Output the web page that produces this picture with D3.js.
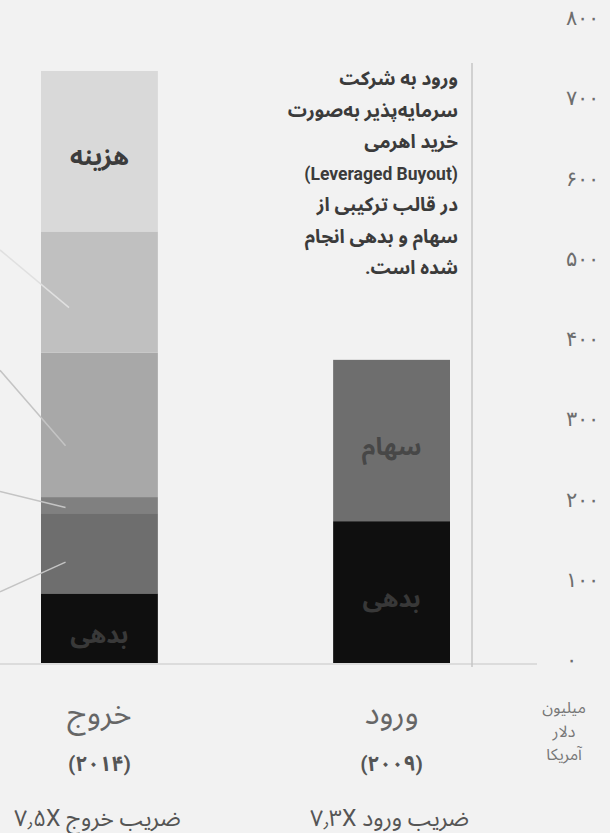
<!DOCTYPE html>
<html lang="fa">
<head>
<meta charset="utf-8">
<script src="https://cdn.jsdelivr.net/npm/d3@7"></script>
<style>
  html, body { margin: 0; padding: 0; background: #f2f2f2; }
  svg { display: block; font-family: Roboto, "Noto Sans Arabic", "DejaVu Sans", sans-serif; }
</style>
</head>
<body>
<svg id="chart" width="610" height="833"></svg>
<script>
// Stages of the deal, exit (2014) on the left and entry (2009) on the right
const stages = ["خروج", "ورود"];
const stageYears = ["(۲۰۱۴)", "(۲۰۰۹)"];
const stageMultiples = ["ضریب خروج ۷٫۵X", "ضریب ورود ۷٫۳X"];

// Stack layers, bottom to top (million US dollars)
const layerKeys = ["debt", "equity", "layer3", "layer4", "layer5", "cost"];
const layerNames = ["بدهی", "سهام", "", "", "", "هزینه"];
const layerColors = ["#0f0f0f", "#6e6e6e", "#808080", "#a8a8a8", "#c0c0c0", "#d9d9d9"];
const exitValues = [88, 100, 20, 180, 151, 200];
const entryValues = [178, 201, 0, 0, 0, 0];

// In-bar labels: which stage, which layer, text colour
const barLabels = [
  { stage: "خروج", layer: "cost", color: "#3c3c3c" },
  { stage: "خروج", layer: "debt", color: "#393939" },
  { stage: "ورود", layer: "equity", color: "#474747" },
  { stage: "ورود", layer: "debt", color: "#383838" }
];

// Leader lines into the exit bar (values where they leave the left edge and where they end)
const leaderFrom = [516, 366, 215, 90];
const leaderTo = [444, 272, 195, 127];
const leaderColors = ["#e0e0e0", "#c4c4c4", "#c4c4c4", "#c4c4c4"];

const yTicks = [0, 100, 200, 300, 400, 500, 600, 700, 800];
const unitLines = ["میلیون", "دلار", "آمریکا"];

const noteLines = [
  "ورود به شرکت",
  "سرمایه‌پذیر به‌صورت",
  "خرید اهرمی",
  "(Leveraged Buyout)",
  "در قالب ترکیبی از",
  "سهام و بدهی انجام",
  "شده است."
];

const faDigits = s => String(s).replace(/\d/g, d => "۰۱۲۳۴۵۶۷۸۹"[+d]);
const isLatin = s => /[A-Za-z]/.test(s) && !/[\u0600-\u06FF]/.test(s);

const svg = d3.select("#chart");

const y = d3.scaleLinear().domain([0, 800]).range([664, 22]);
const x = d3.scaleBand().domain(stages).range([41, 450]).paddingInner(0.6);

const rows = stages.map((s, i) => {
  const vals = i === 0 ? exitValues : entryValues;
  const r = { stage: s };
  layerKeys.forEach((k, j) => r[k] = vals[j]);
  return r;
});
const stacked = d3.stack().keys(layerKeys)(rows);

// Bars
svg.append("g").selectAll("g")
  .data(stacked)
  .join("g")
  .attr("fill", (d, i) => layerColors[i])
  .selectAll("rect")
  .data(d => d.filter(p => p[1] > p[0]))
  .join("rect")
  .attr("x", d => x(d.data.stage))
  .attr("width", x.bandwidth())
  .attr("y", d => y(d[1]))
  .attr("height", d => y(d[0]) - y(d[1]));

// Baseline
svg.append("line")
  .attr("x1", 0).attr("x2", 537)
  .attr("y1", y(0)).attr("y2", y(0))
  .attr("stroke", "#dcdcdc").attr("stroke-width", 2);

// Divider next to the note
svg.append("line")
  .attr("x1", 472).attr("x2", 472)
  .attr("y1", 63).attr("y2", y(0) + 3)
  .attr("stroke", "#c6c6c6").attr("stroke-width", 1.5);

// Leader lines
svg.append("g").selectAll("line")
  .data(leaderFrom.map((v, i) => ({ from: v, to: leaderTo[i], color: leaderColors[i] })))
  .join("line")
  .attr("x1", 0)
  .attr("y1", d => y(d.from))
  .attr("x2", (d, i) => x("خروج") + x.bandwidth() * (i === 0 ? 0.24 : 0.21))
  .attr("y2", d => y(d.to))
  .attr("stroke", d => d.color)
  .attr("stroke-width", 1.5);

// Labels inside bars
svg.append("g").selectAll("text")
  .data(barLabels)
  .join("text")
  .attr("direction", "rtl")
  .attr("text-anchor", "middle")
  .attr("x", d => x(d.stage) + x.bandwidth() / 2)
  .attr("y", d => {
    const layer = stacked[layerKeys.indexOf(d.layer)];
    const p = layer[stages.indexOf(d.stage)];
    return y((p[0] + p[1]) / 2) + 14;
  })
  .attr("font-size", 25)
  .attr("font-weight", "bold")
  .attr("fill", d => d.color)
  .text(d => layerNames[layerKeys.indexOf(d.layer)]);

// Y axis on the right, Persian digits
const axis = svg.append("g")
  .attr("transform", "translate(566,-4)")
  .call(d3.axisRight(y).tickValues(yTicks).tickSize(0).tickPadding(0).tickFormat(faDigits));
axis.select(".domain").remove();
axis.selectAll("text")
  .attr("font-family", null)
  .attr("font-size", 21)
  .attr("fill", "#6e6e6e")
  .attr("text-anchor", "start");

// Unit caption under the axis
svg.append("g").selectAll("text")
  .data(unitLines)
  .join("text")
  .attr("direction", "rtl")
  .attr("text-anchor", "middle")
  .attr("x", 564)
  .attr("y", (d, i) => 713 + i * 23.5)
  .attr("font-size", 16)
  .attr("fill", "#777")
  .text(d => d);

// Category labels
const cat = svg.append("g");
cat.selectAll("text.stage")
  .data(stages)
  .join("text")
  .attr("class", "stage")
  .attr("direction", "rtl")
  .attr("text-anchor", "middle")
  .attr("x", d => x(d) + x.bandwidth() / 2)
  .attr("y", 724)
  .attr("font-size", 31)
  .attr("fill", "#666")
  .text(d => d);
cat.selectAll("text.year")
  .data(stageYears)
  .join("text")
  .attr("class", "year")
  .attr("direction", "rtl")
  .attr("text-anchor", "middle")
  .attr("x", (d, i) => x(stages[i]) + x.bandwidth() / 2)
  .attr("y", 771)
  .attr("font-size", 21)
  .attr("font-weight", "bold")
  .attr("fill", "#555")
  .text(d => d);
cat.selectAll("text.mult")
  .data(stageMultiples)
  .join("text")
  .attr("class", "mult")
  .attr("direction", "rtl")
  .attr("text-anchor", "middle")
  .attr("x", (d, i) => x(stages[i]) + x.bandwidth() / 2 - 2)
  .attr("y", 826)
  .attr("font-size", 23)
  .attr("fill", "#555")
  .text(d => d);

// Note beside the entry bar
svg.append("g").selectAll("text")
  .data(noteLines)
  .join("text")
  .attr("direction", "rtl")
  .attr("text-anchor", "start")
  .attr("x", 458)
  .attr("y", (d, i) => 85 + i * 31.5)
  .attr("font-size", d => isLatin(d) ? 17.5 : 19)
  .attr("font-weight", "bold")
  .attr("fill", "#3b3b3b")
  .text(d => d);
</script>
</body>
</html>
